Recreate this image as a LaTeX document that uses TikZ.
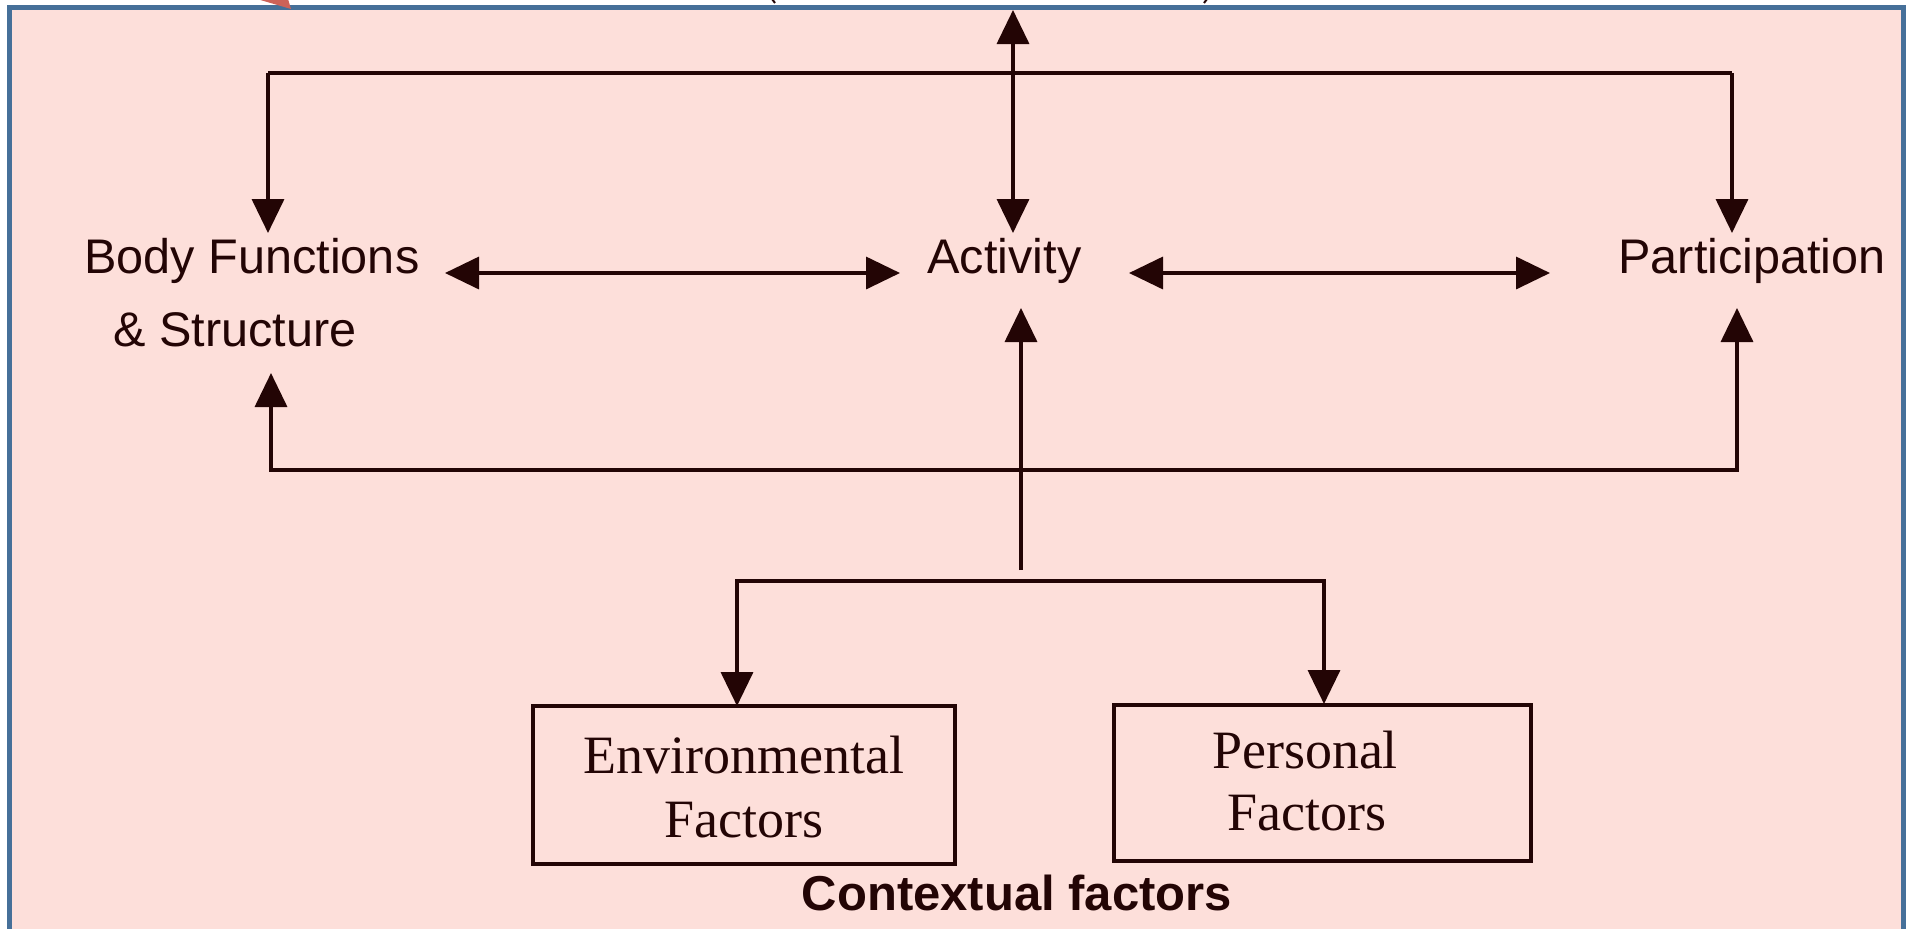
\documentclass[tikz,border=0pt]{standalone}
\usepackage{fontspec}
\setmainfont{Liberation Serif}
\newfontfamily\arialfont{Liberation Sans}
\usetikzlibrary{arrows.meta}
\definecolor{ink}{RGB}{35,5,5}
\definecolor{pinkbg}{RGB}{253,223,218}
\definecolor{frameblue}{RGB}{70,112,153}
\definecolor{wedgered}{RGB}{205,98,88}
\begin{document}
\begin{tikzpicture}[x=0.5pt,y=-0.5pt,
  conn/.style={draw=ink, line width=1.75pt, line join=miter},
  tipboth/.style={conn, {Triangle[length=17pt,width=16pt]}-{Triangle[length=17pt,width=16pt]}},
  tipend/.style={conn, -{Triangle[length=17pt,width=16pt]}},
  sanslabel/.style={inner sep=0pt, text=ink, font=\arialfont\fontsize{24.3}{29}\selectfont},
  seriflabel/.style={inner sep=0pt, text=ink, font=\fontsize{27}{32}\selectfont},
  factorbox/.style={draw=ink, line width=2pt, inner sep=0pt}]
\clip (0,0) rectangle (1907,928);
\fill[white] (0,0) rectangle (1907,928);
\draw[frameblue, line width=2.5pt, fill=pinkbg] (9.5,7.5) rectangle (1903.5,960);
% cut-off pieces above the frame
\fill[wedgered] (257,-1) -- (288,-1) -- (291,9) -- cycle;
\draw[ink, line width=1pt] (772,-1) -- (775,3);
\draw[ink, line width=1pt] (1207,-1) -- (1204,3);
% labels
\node[sanslabel, anchor=base west] (bf) at (84,273) {Body Functions};
\node[sanslabel, anchor=base west] (bfs) at (113,346) {\& Structure};
\node[sanslabel, anchor=base west] (act) at (927,273) {Activity};
\node[sanslabel, anchor=base west] (par) at (1618,273) {Participation};
% boxes
\node[factorbox, minimum width=211pt, minimum height=79pt] (env) at (744,785) {};
\node[seriflabel, anchor=base] (envt) at (744,773) {Environmental};
\node[seriflabel, anchor=base] (envf) at (744,837) {Factors};
\node[factorbox, minimum width=208.5pt, minimum height=78pt] (per) at (1322.5,783) {};
\node[seriflabel, anchor=base] (pert) at (1305,768) {Personal};
\node[seriflabel, anchor=base] (perf) at (1307,830) {Factors};
\node[inner sep=0pt, text=ink, font=\arialfont\bfseries\fontsize{24.5}{29}\selectfont, anchor=base] (ctx) at (1017,910) {Contextual factors};
% connector points
\coordinate (tl) at (268,73);
\coordinate (tr) at (1732,73);
\coordinate (bfT) at (268,233);
\coordinate (parT) at (1732,233);
\coordinate (edgeTop) at (1013,10);
\coordinate (actT) at (1013,233);
\coordinate (bfR) at (445,273);
\coordinate (actL) at (900,273);
\coordinate (actR) at (1129,273);
\coordinate (parL) at (1550,273);
\coordinate (bfB) at (271,373);
\coordinate (bl) at (271,470);
\coordinate (br) at (1737,470);
\coordinate (parB) at (1737,308);
\coordinate (stem) at (1021,570);
\coordinate (actB) at (1021,308);
\coordinate (el) at (737,581);
\coordinate (er) at (1324,581);
\coordinate (envT) at (737,706);
\coordinate (perT) at (1324,704);
% connectors
\draw[conn, line width=2.3pt] (tl) -- (tr);
\draw[tipend] (tl) -- (bfT);
\draw[tipend] (tr) -- (parT);
\draw[tipboth] (actT) -- (edgeTop);
\draw[tipboth] (bfR) -- (actL);
\draw[tipboth] (actR) -- (parL);
\draw[tipboth] (bfB) -- (bl) -- (br) -- (parB);
\draw[tipend] (stem) -- (actB);
\draw[tipboth] (envT) -- (el) -- (er) -- (perT);
\end{tikzpicture}
\end{document}
